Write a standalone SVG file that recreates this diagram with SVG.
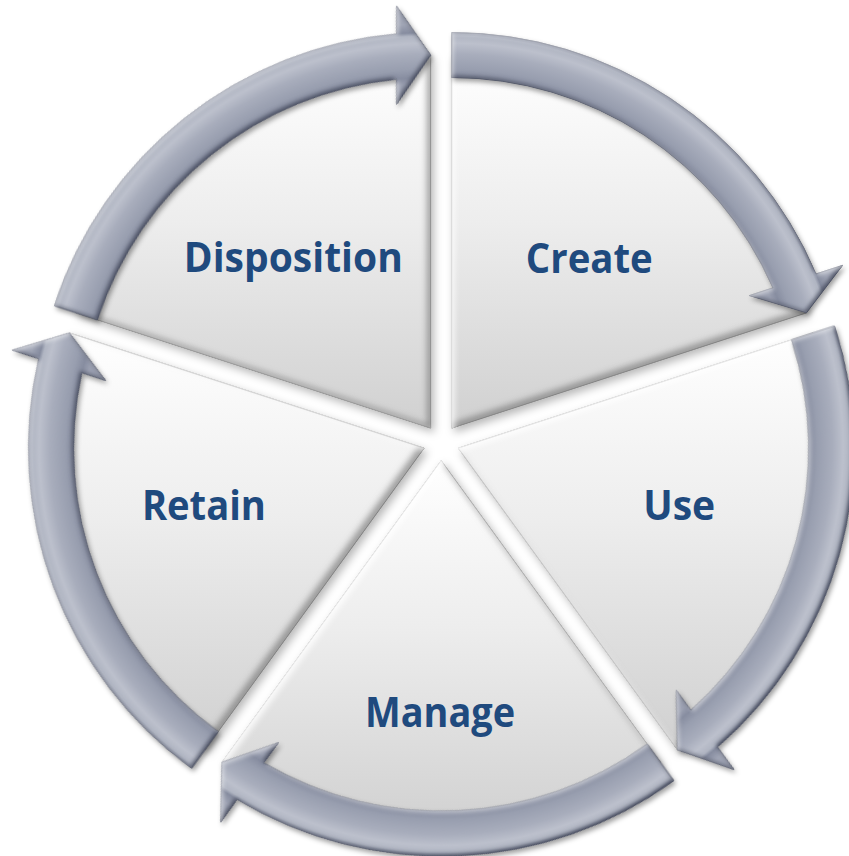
<svg xmlns="http://www.w3.org/2000/svg" xmlns:xlink="http://www.w3.org/1999/xlink" width="849" height="856" viewBox="0 0 849 856">
  <style>
    .wedge { fill: url(#wedgeFill); stroke: #a3a3a3; stroke-width: 1; filter: url(#wedgeFx); }
    .arc { fill: url(#bandFill); stroke: #676c7e; stroke-width: 0.8; }
    .label { font-family: "Open Sans", "Liberation Sans", sans-serif; font-weight: 700; font-size: 42px; fill: #1f4a7e; text-anchor: middle; }
  </style>
  <defs>
    <!-- soft white-to-grey face of each pie segment -->
    <linearGradient id="wedgeFill" x1="0" y1="0" x2="0" y2="1">
      <stop offset="0" stop-color="#ffffff"/>
      <stop offset="0.45" stop-color="#ededed"/>
      <stop offset="1" stop-color="#d0d0d0"/>
    </linearGradient>
    <!-- metallic band across the ring, centred on each segment apex -->
    <radialGradient id="bandFill" gradientUnits="userSpaceOnUse" cx="0" cy="0" r="430">
      <stop offset="0" stop-color="#9ba0b1"/>
      <stop offset="0.80" stop-color="#9ba0b1"/>
      <stop offset="0.815" stop-color="#878da0"/>
      <stop offset="0.835" stop-color="#989eaf"/>
      <stop offset="0.87" stop-color="#a8adbc"/>
      <stop offset="0.895" stop-color="#bcc0cc"/>
      <stop offset="0.912" stop-color="#b0b5c2"/>
      <stop offset="0.92" stop-color="#868c9f"/>
      <stop offset="0.94" stop-color="#a0a5b5"/>
      <stop offset="1" stop-color="#a0a5b5"/>
    </radialGradient>
    <!-- drop shadow plus bevelled edges for the segments -->
    <filter id="wedgeFx" x="-8%" y="-8%" width="120%" height="120%" color-interpolation-filters="sRGB">
      <feGaussianBlur in="SourceAlpha" stdDeviation="4" result="sb"/>
      <feOffset in="sb" dx="3" dy="4" result="so"/>
      <feFlood flood-color="#000" flood-opacity="0.28"/>
      <feComposite in2="so" operator="in" result="shadow"/>
      <feGaussianBlur in="SourceAlpha" stdDeviation="3" result="ib"/>
      <feOffset in="ib" dx="-4" dy="-4" result="io"/>
      <feComposite in="SourceAlpha" in2="io" operator="arithmetic" k2="1" k3="-1" result="darkEdge"/>
      <feFlood flood-color="#666666" flood-opacity="0.6"/>
      <feComposite in2="darkEdge" operator="in" result="dark"/>
      <feOffset in="ib" dx="3" dy="3" result="io2"/>
      <feComposite in="SourceAlpha" in2="io2" operator="arithmetic" k2="1" k3="-1" result="lightEdge"/>
      <feFlood flood-color="#ffffff" flood-opacity="0.9"/>
      <feComposite in2="lightEdge" operator="in" result="light"/>
      <feMerge>
        <feMergeNode in="shadow"/>
        <feMergeNode in="SourceGraphic"/>
        <feMergeNode in="dark"/>
        <feMergeNode in="light"/>
      </feMerge>
    </filter>
    <!-- drop shadow plus bevelled edges for the ring arrows -->
    <filter id="arrowFx" x="-5%" y="-5%" width="110%" height="110%" color-interpolation-filters="sRGB">
      <feGaussianBlur in="SourceAlpha" stdDeviation="2.5" result="sb"/>
      <feOffset in="sb" dx="2" dy="3" result="so"/>
      <feFlood flood-color="#000" flood-opacity="0.38"/>
      <feComposite in2="so" operator="in" result="shadow"/>
      <feGaussianBlur in="SourceAlpha" stdDeviation="2" result="ib"/>
      <feOffset in="ib" dx="-2.5" dy="-2.5" result="io"/>
      <feComposite in="SourceAlpha" in2="io" operator="arithmetic" k2="1" k3="-1" result="darkEdge"/>
      <feFlood flood-color="#33384a" flood-opacity="0.75"/>
      <feComposite in2="darkEdge" operator="in" result="dark"/>
      <feOffset in="ib" dx="2" dy="2" result="io2"/>
      <feComposite in="SourceAlpha" in2="io2" operator="arithmetic" k2="1" k3="-1" result="lightEdge"/>
      <feFlood flood-color="#ffffff" flood-opacity="0.55"/>
      <feComposite in2="lightEdge" operator="in" result="light"/>
      <feMerge>
        <feMergeNode in="shadow"/>
        <feMergeNode in="SourceGraphic"/>
        <feMergeNode in="dark"/>
        <feMergeNode in="light"/>
      </feMerge>
    </filter>
    <!-- one 72 degree arc arrow, drawn about its segment apex (tail at -90deg, head at -18deg) -->
    <path id="ringArrow" class="arc" d="M 0 -395.5 A 395.5 395.5 0 0 1 364.24 -154.10 L 390.83 -162.74 L 354.74 -115.26 L 297.63 -132.46 L 321.26 -140.14 A 350.5 350.5 0 0 0 0 -350.5 Z"/>
  </defs>

  <rect width="849" height="856" fill="#ffffff"/>

  <g id="node-create">
    <path class="wedge" d="M 451.78 428.04 L 451.78 55.04 A 373 373 0 0 1 806.52 312.78 Z"/>
    <text class="label" x="589.3" y="272.5" textLength="127" lengthAdjust="spacingAndGlyphs">Create</text>
  </g>
  <g id="node-use">
    <path class="wedge" d="M 458.32 448.16 L 813.06 332.90 A 373 373 0 0 1 677.57 749.92 Z"/>
    <text class="label" x="679.2" y="520" textLength="72" lengthAdjust="spacingAndGlyphs">Use</text>
  </g>
  <g id="node-manage">
    <path class="wedge" d="M 441.2 460.6 L 660.45 762.36 A 373 373 0 0 1 221.95 762.36 Z"/>
    <text class="label" x="440" y="726.7" textLength="150" lengthAdjust="spacingAndGlyphs">Manage</text>
  </g>
  <g id="node-retain">
    <path class="wedge" d="M 424.08 448.16 L 204.83 749.92 A 373 373 0 0 1 69.34 332.90 Z"/>
    <text class="label" x="203.9" y="520" textLength="124" lengthAdjust="spacingAndGlyphs">Retain</text>
  </g>
  <g id="node-disposition">
    <path class="wedge" d="M 430.62 428.04 L 75.88 312.78 A 373 373 0 0 1 430.62 55.04 Z"/>
    <text class="label" x="293.3" y="271.7" textLength="219" lengthAdjust="spacingAndGlyphs">Disposition</text>
  </g>

  <!-- cycle arrows: Create -> Use -> Manage -> Retain -> Disposition -> Create -->
  <g id="connectors" filter="url(#arrowFx)">
    <use href="#ringArrow" xlink:href="#ringArrow" transform="translate(451.78 428.04)"/>
    <use href="#ringArrow" xlink:href="#ringArrow" transform="translate(458.32 448.16) rotate(72)"/>
    <use href="#ringArrow" xlink:href="#ringArrow" transform="translate(441.2 460.6) rotate(144)"/>
    <use href="#ringArrow" xlink:href="#ringArrow" transform="translate(424.08 448.16) rotate(216)"/>
    <use href="#ringArrow" xlink:href="#ringArrow" transform="translate(430.62 428.04) rotate(288)"/>
  </g>
</svg>
